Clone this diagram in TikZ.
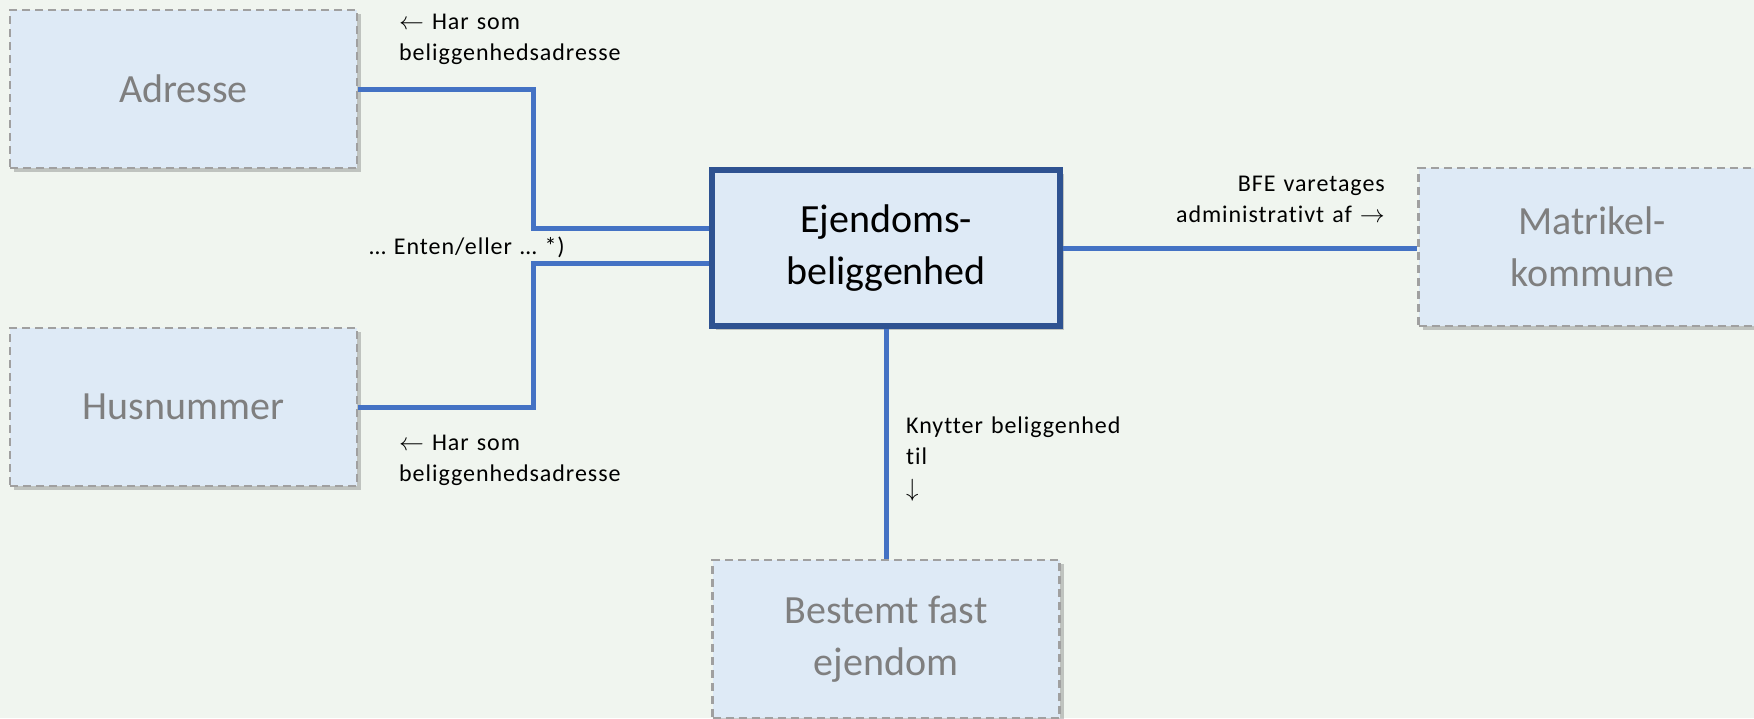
\documentclass[tikz,border=0pt]{standalone}
\usepackage{fontspec}
\setmainfont{Carlito}[Ligatures=CommonOff]
\newfontfamily\relfont[LetterSpace=4,Ligatures=CommonOff]{Carlito}
\usetikzlibrary{positioning,shadows}
\definecolor{bgcol}{HTML}{F0F5EF}
\definecolor{boxfill}{HTML}{DEEAF6}
\definecolor{dashgray}{HTML}{A0A0A0}
\definecolor{textgray}{HTML}{7F7F7F}
\definecolor{mainblue}{HTML}{2E5291}
\definecolor{linkblue}{HTML}{4472C4}

\begin{document}
\begin{tikzpicture}[x=1pt,y=-1pt,
  entity node/.style={rectangle,fill=boxfill,draw=dashgray,dash pattern=on 8pt off 5pt,line width=2.2pt,
    minimum width=347pt,minimum height=158pt,inner sep=0pt,text=textgray,align=center,
    font=\fontsize{40}{52}\selectfont,
    drop shadow={shadow xshift=4pt,shadow yshift=-4pt,opacity=.35,fill=black!60}},
  main node/.style={rectangle,fill=boxfill,draw=mainblue,line width=6pt,
    minimum width=348pt,minimum height=156pt,inner sep=0pt,align=center,
    font=\fontsize{40}{52}\selectfont,
    drop shadow={shadow xshift=4pt,shadow yshift=-4pt,opacity=.35,fill=black!60}},
  rel text/.style={inner sep=0pt,text width=270pt,font=\relfont\fontsize{24}{31.7}\selectfont},
  link/.style={draw=linkblue,line width=5pt}
  ]
   \useasboundingbox[fill=bgcol] (0,0) rectangle (1754,718);
   \node[entity node] (adresse) at (183.5,89) {Adresse};
   \node[entity node] (husnummer) at (183.5,407) {Husnummer};
   \node[main node] (ejendom) at (886,248) {Ejendoms-\\beliggenhed};
   \node[entity node] (matrikel) at (1592,247) {Matrikel-\\kommune};
   \node[entity node] (bestemt) at (886,639) {Bestemt fast\\ejendom};
   % relation texts
   \node[rel text,anchor=base west,align=left] (harAdr) at (399,29) {$\leftarrow$ Har som\\beliggenhedsadresse};
   \node[rel text,anchor=base west,align=left] (harHus) at (399,450) {$\leftarrow$ Har som\\beliggenhedsadresse};
   \node[rel text,anchor=base east,align=right] (enten) at (565,254) {… Enten/eller … *)};
   \node[rel text,anchor=base east,align=right] (varetages) at (1385,191) {BFE varetages\\administrativt af $\rightarrow$};
   \node[rel text,anchor=base west,align=left] (knytter) at (906,433) {Knytter beliggenhed\\til\\$\downarrow$};
   % connectors
   \coordinate (jA) at (533,228);
   \coordinate (jH) at (533,263);
   \draw[link] (adresse.east) -| (jA) -- (jA -| ejendom.west);
   \draw[link] (husnummer.east) -| (jH) -- (jH -| ejendom.west);
   \path%
    (ejendom.east) edge [link] (ejendom.east -| matrikel.west)
    (ejendom.south) edge [link] (bestemt.north);
  \end{tikzpicture}
\end{document}
